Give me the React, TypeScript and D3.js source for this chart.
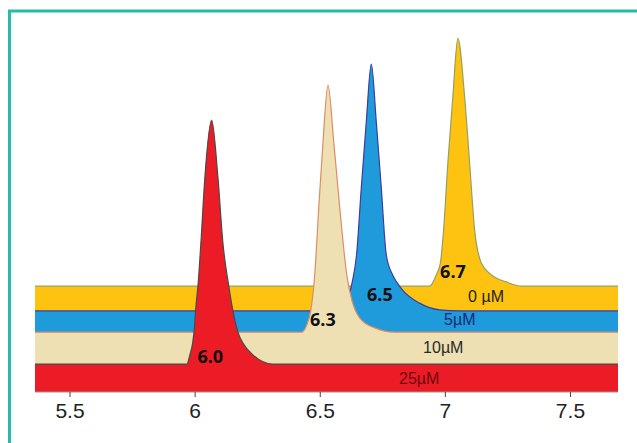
import React from "react";
import * as d3 from "d3";

// Retention time axis
const xTicks = [5.5, 6, 6.5, 7, 7.5];
const xDomain = [5.36, 7.69];

// Traces (retention time, signal) – drawn back to front
const yellowX = [5.36, 6.937, 6.964, 6.98, 6.993, 7.01, 7.03, 7.05, 7.077, 7.097, 7.117, 7.144, 7.184, 7.243, 7.304, 7.69];
const yellowY = [29.9, 29.9, 33.1, 36.4, 45.8, 64.7, 83.4, 99.9, 83.4, 64.7, 45.8, 36.4, 33.1, 31.1, 29.9, 29.9];

const blueX = [5.36, 6.6, 6.614, 6.628, 6.645, 6.664, 6.684, 6.704, 6.724, 6.744, 6.764, 6.789, 6.805, 6.829, 6.897, 6.977, 7.057, 7.69];
const blueY = [22.9, 22.9, 27.0, 31.1, 38.7, 57.6, 76.3, 92.6, 76.3, 57.6, 38.7, 33.1, 31.1, 28.8, 25.1, 23.2, 22.9, 22.9];

const beigeX = [5.36, 6.426, 6.446, 6.462, 6.478, 6.494, 6.511, 6.531, 6.554, 6.578, 6.606, 6.626, 6.658, 6.718, 6.797, 7.69];
const beigeY = [16.9, 16.9, 18.9, 22.9, 33.1, 52.0, 70.6, 86.7, 70.6, 52.0, 33.1, 26.0, 20.9, 18.1, 16.9, 16.9];

const redX = [5.36, 5.967, 5.979, 5.99, 5.997, 6.003, 6.011, 6.023, 6.039, 6.066, 6.091, 6.111, 6.135, 6.151, 6.171, 6.191, 6.231, 6.31, 7.69];
const redY = [7.9, 7.9, 10.5, 13.8, 18.0, 24.0, 29.7, 42.1, 60.7, 76.8, 60.7, 42.1, 29.7, 22.9, 16.9, 13.8, 10.5, 7.9, 7.9];

// Peak labels (retention time read at apex)
const peakLabels = ["6.7", "6.5", "6.3", "6.0"];
const peakLabelX = [6.979, 6.687, 6.459, 6.009];
const peakLabelY = [32.2, 25.8, 18.6, 8.2];

// Concentration labels
const concLabels = ["0 \u00b5M", "5\u00b5M", "10\u00b5M", "25\u00b5M"];
const concLabelX = [7.091, 6.995, 6.911, 6.815];
const concLabelY = [25.4, 18.9, 11.0, 2.3];

const W = 637;
const H = 443;

export default function App() {
  const x = d3.scaleLinear().domain(xDomain).range([35, 618]);
  const y = d3.scaleLinear().domain([0, 100]).range([392, 38]);

  const series = [
    { xs: yellowX, ys: yellowY, fill: "#FDC310", stroke: "#95A060" },
    { xs: blueX, ys: blueY, fill: "#1F9BDB", stroke: "#3D3D9E" },
    { xs: beigeX, ys: beigeY, fill: "#EEE0B2", stroke: "#DE8C68" },
    { xs: redX, ys: redY, fill: "#EB1C26", stroke: "#4A4A4A" },
  ];

  const area = d3
    .area<[number, number]>()
    .x((d) => x(d[0]))
    .y0(y(0))
    .y1((d) => y(d[1]))
    .curve(d3.curveMonotoneX);
  const line = d3
    .line<[number, number]>()
    .x((d) => x(d[0]))
    .y((d) => y(d[1]))
    .curve(d3.curveMonotoneX);

  const concColors = ["#222222", "#1B2A72", "#2A2A2A", "#6E0A10"];

  return (
    <svg
      width={W}
      height={H}
      style={{ position: "absolute", left: 0, top: 0, background: "#fff" }}
    >
      <rect x={0} y={0} width={W} height={H} fill="#fff" />
      <rect
        x={9.5}
        y={11}
        width={800}
        height={600}
        fill="#fff"
        stroke="#25BBA6"
        strokeWidth={3}
      />
      {series.map((s, i) => {
        const pts: [number, number][] = s.xs.map((v, j) => [v, s.ys[j]]);
        return (
          <g key={i}>
            <path d={area(pts) || ""} fill={s.fill} />
            <path d={line(pts) || ""} fill="none" stroke={s.stroke} strokeWidth={1.2} />
          </g>
        );
      })}
      <line x1={x(xDomain[0])} x2={x(xDomain[1])} y1={y(0)} y2={y(0)} stroke="#999" strokeWidth={1} />
      {peakLabels.map((t, i) => (
        <text
          key={t}
          x={x(peakLabelX[i])}
          y={y(peakLabelY[i])}
          fontFamily="'Open Sans', sans-serif"
          fontWeight={700}
          fontSize={18}
          fill="#111"
        >
          {t}
        </text>
      ))}
      {concLabels.map((t, i) => (
        <text
          key={t}
          x={x(concLabelX[i])}
          y={y(concLabelY[i])}
          fontFamily="'Liberation Sans', Arial, sans-serif"
          fontSize={16}
          fill={concColors[i]}
        >
          {t}
        </text>
      ))}
      {xTicks.map((t) => (
        <g key={t} transform={`translate(${x(t)},0)`}>
          <line y1={y(0)} y2={y(0) + 5} stroke="#444" strokeWidth={1} />
          <text
            y={418}
            textAnchor="middle"
            fontFamily="'Liberation Sans', Arial, sans-serif"
            fontSize={21}
            fill="#222"
          >
            {t}
          </text>
        </g>
      ))}
    </svg>
  );
}
